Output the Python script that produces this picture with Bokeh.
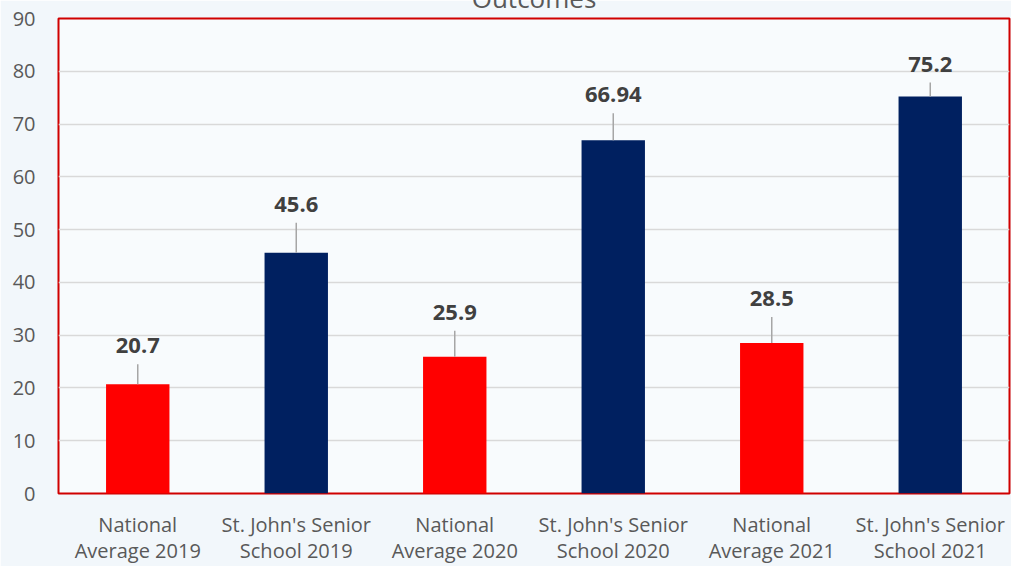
from bokeh.plotting import figure
from bokeh.models import (FactorRange, Range1d, FixedTicker, ColumnDataSource,
                          LabelSet, Title)
from bokeh.core.properties import value
from bokeh.embed import file_html
from bokeh.resources import INLINE

# ---- data ----
categories = ["National\nAverage 2019", "St. John's Senior\nSchool 2019",
              "National\nAverage 2020", "St. John's Senior\nSchool 2020",
              "National\nAverage 2021", "St. John's Senior\nSchool 2021"]
values = [20.7, 45.6, 25.9, 66.94, 28.5, 75.2]
value_labels = ["20.7", "45.6", "25.9", "66.94", "28.5", "75.2"]
y_ticks = [0, 10, 20, 30, 40, 50, 60, 70, 80, 90]
title_text = "Outcomes"

# ---- styles ----
bar_colors = ["#FF0000", "#002060", "#FF0000", "#002060", "#FF0000", "#002060"]
label_offset_px = [31, 41, 37, 38, 37, 25]
leader_px = [o - 11 for o in label_offset_px]
FONT = "Open Sans"

src = ColumnDataSource(dict(cat=categories, val=values, lab=value_labels,
                            color=bar_colors, off=label_offset_px,
                            lead=leader_px))

p = figure(width=1011, height=566, output_backend="svg", toolbar_location=None,
           x_range=FactorRange(factors=categories, range_padding=0),
           y_range=Range1d(0, 90),
           min_border_left=58, min_border_right=2, min_border_top=18,
           min_border_bottom=71)

p.title = Title(text=title_text, align="center", vertical_align="top",
                standoff=-78, text_font=FONT, text_font_size="26px",
                text_font_style="normal", text_color="#595959")

p.background_fill_color = "#F8FBFD"
p.border_fill_color = "#F2F7FB"
p.outline_line_color = "#D00000"
p.outline_line_width = 2

p.vbar(x="cat", top="val", width=0.4, color="color", source=src, line_width=0)

p.ray(x="cat", y="val", length="lead", angle=90, angle_units="deg",
      length_units="screen", line_color="#A6A6A6", line_width=1.5, source=src)

labels = LabelSet(x="cat", y="val", text="lab", y_offset="off", source=src,
                  text_align="center", text_baseline="alphabetic",
                  text_font=value(FONT), text_font_size=value("22px"),
                  text_font_style="bold", text_color="#404040")
p.add_layout(labels)

p.xgrid.grid_line_color = None
p.ygrid.grid_line_color = "#D9D9D9"
p.ygrid.grid_line_width = 1.5
p.yaxis.ticker = FixedTicker(ticks=y_ticks)

for ax in (p.xaxis[0], p.yaxis[0]):
    ax.axis_line_color = None
    ax.major_tick_line_color = None
    ax.minor_tick_line_color = None
    ax.major_tick_out = 0
    ax.major_tick_in = 0
    ax.major_label_text_font = FONT
    ax.major_label_text_font_size = "20px"
    ax.major_label_text_color = "#595959"

p.xaxis.major_label_text_line_height = 0.97
p.yaxis.major_label_standoff = 23
p.xaxis.major_label_standoff = 17

open("out.html", "w").write(file_html(p, INLINE))
